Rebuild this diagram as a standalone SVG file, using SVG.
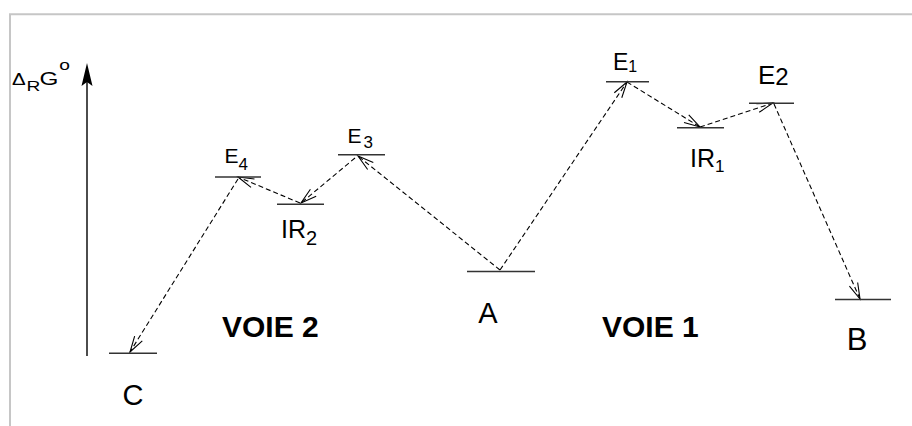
<svg xmlns="http://www.w3.org/2000/svg" width="912" height="426" viewBox="0 0 912 426">
<style>
text{font-family:"Liberation Sans",Arial,sans-serif;fill:#000}
.lvl{stroke:#333;stroke-width:1.6}
.lab{font-size:29px}
.voie{font-size:30px;font-weight:bold}
.con{fill:none;stroke:#000;stroke-width:1.1;stroke-dasharray:5 3}
.frame{stroke:#c6c6c6;stroke-width:2;fill:none}
</style>
<defs>
<marker id="arr" markerUnits="userSpaceOnUse" markerWidth="20" markerHeight="12" viewBox="0 0 20 12" refX="17" refY="6" orient="auto">
<path d="M1,1.5 L17,6 L1,10.5" fill="none" stroke="#000" stroke-width="1.1" stroke-dasharray="none"/>
</marker>
</defs>
<rect width="912" height="426" fill="#fff"/>
<path class="frame" d="M10,426 L10,14.3 L912,14.3"/>

<g id="axis">
<line x1="87" y1="356" x2="87" y2="78" stroke="#000" stroke-width="1.4"/>
<polygon points="87,63 81.5,86 87,82 92.5,86" fill="#000"/>
<g transform="translate(12,0) scale(1.28,1)">
<text x="0" y="85" font-size="16">Δ</text>
<text x="11.3" y="91" font-size="15">R</text>
<text x="21.4" y="85" font-size="19">G</text>
<text x="36.9" y="70" font-size="15">o</text>
</g>
</g>

<g id="connectors">
<line class="con" x1="500" y1="270" x2="358" y2="156" marker-end="url(#arr)"/>
<line class="con" x1="355" y1="158" x2="301" y2="203" marker-end="url(#arr)"/>
<line class="con" x1="300" y1="203" x2="238" y2="177" marker-end="url(#arr)"/>
<line class="con" x1="238" y1="179" x2="130" y2="352" marker-end="url(#arr)"/>
<line class="con" x1="500" y1="270" x2="627" y2="82" marker-end="url(#arr)"/>
<line class="con" x1="627" y1="82" x2="700" y2="127" marker-end="url(#arr)"/>
<line class="con" x1="700" y1="127" x2="773" y2="103" marker-end="url(#arr)"/>
<line class="con" x1="774" y1="104" x2="860" y2="299" marker-end="url(#arr)"/>
</g>

<g id="node-C">
<line class="lvl" x1="109" y1="353.3" x2="157" y2="353.3"/>
<text class="lab" x="133" y="405" text-anchor="middle">C</text>
</g>
<g id="node-E4">
<line class="lvl" x1="215" y1="177" x2="261" y2="177"/>
<text x="224.5" y="163" font-size="21">E<tspan font-size="17" dy="7">4</tspan></text>
</g>
<g id="node-IR2">
<line class="lvl" x1="277" y1="204.3" x2="324" y2="204.3"/>
<text x="281" y="238" font-size="25">IR<tspan font-size="20" dy="7">2</tspan></text>
</g>
<g id="node-E3">
<line class="lvl" x1="338" y1="154.7" x2="385" y2="154.7"/>
<text x="347.5" y="143" font-size="21">E<tspan font-size="17" dx="2" dy="5">3</tspan></text>
</g>
<g id="node-A">
<line class="lvl" x1="467" y1="271.5" x2="535" y2="271.5"/>
<text class="lab" x="488" y="323" text-anchor="middle">A</text>
</g>
<g id="node-E1">
<line class="lvl" x1="606" y1="81.7" x2="649" y2="81.7"/>
<text x="613" y="70" font-size="23">E<tspan font-size="16" dy="2">1</tspan></text>
</g>
<g id="node-IR1">
<line class="lvl" x1="677" y1="127.7" x2="724" y2="127.7"/>
<text x="690" y="167" font-size="25">IR<tspan font-size="17" dy="5">1</tspan></text>
</g>
<g id="node-E2">
<line class="lvl" x1="749" y1="103.3" x2="794" y2="103.3"/>
<text x="758" y="84" font-size="26">E<tspan font-size="24" dy="1">2</tspan></text>
</g>
<g id="node-B">
<line class="lvl" x1="835" y1="299.5" x2="891" y2="299.5"/>
<text x="857" y="350" font-size="31" text-anchor="middle">B</text>
</g>

<text class="voie" x="222" y="337">VOIE 2</text>
<text class="voie" x="602" y="337">VOIE 1</text>
</svg>
